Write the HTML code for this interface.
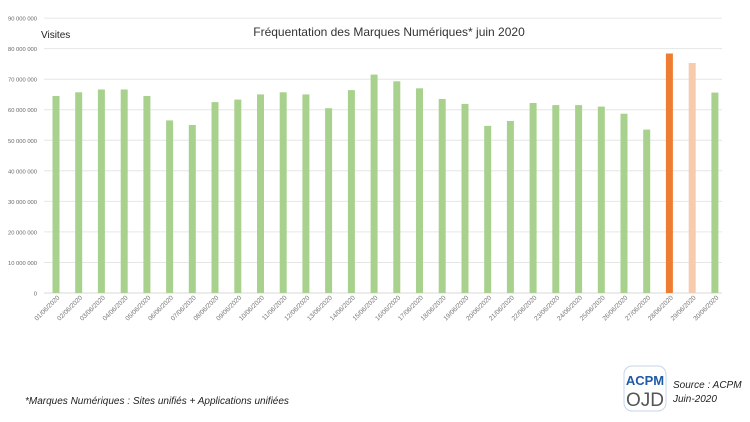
<!DOCTYPE html>
<html><head><meta charset="utf-8"><style>body{margin:0;background:#fff}</style></head><body>
<svg width="750" height="417" xmlns="http://www.w3.org/2000/svg" font-family="Liberation Sans, sans-serif">
<rect width="750" height="417" fill="#fff"/>
<g stroke="#e6e6e6" stroke-width="1">
<line x1="44" x2="722" y1="293" y2="293" stroke="#d9d9d9"/><line x1="44" x2="722" y1="262.5" y2="262.5"/><line x1="44" x2="722" y1="231.9" y2="231.9"/><line x1="44" x2="722" y1="201.4" y2="201.4"/><line x1="44" x2="722" y1="170.8" y2="170.8"/><line x1="44" x2="722" y1="140.3" y2="140.3"/><line x1="44" x2="722" y1="109.7" y2="109.7"/><line x1="44" x2="722" y1="79.2" y2="79.2"/><line x1="44" x2="722" y1="48.6" y2="48.6"/><line x1="44" x2="722" y1="18.1" y2="18.1"/>
</g>
<g font-size="5.8" text-anchor="end" fill="#666">
<text x="37" y="295.5">0</text><text x="37" y="265">10 000 000</text><text x="37" y="234.4">20 000 000</text><text x="37" y="203.9">30 000 000</text><text x="37" y="173.3">40 000 000</text><text x="37" y="142.8">50 000 000</text><text x="37" y="112.2">60 000 000</text><text x="37" y="81.7">70 000 000</text><text x="37" y="51.1">80 000 000</text><text x="37" y="20.6">90 000 000</text>
</g>
<g fill="#a9d18e">
<rect x="52.5" y="96" width="7" height="197"/>
<rect x="75.2" y="92.3" width="7" height="200.7"/>
<rect x="97.9" y="89.5" width="7" height="203.5"/>
<rect x="120.7" y="89.5" width="7" height="203.5"/>
<rect x="143.4" y="96" width="7" height="197"/>
<rect x="166.1" y="120.4" width="7" height="172.6"/>
<rect x="188.8" y="125" width="7" height="168"/>
<rect x="211.5" y="102.1" width="7" height="190.9"/>
<rect x="234.3" y="99.6" width="7" height="193.4"/>
<rect x="257" y="94.4" width="7" height="198.6"/>
<rect x="279.7" y="92.3" width="7" height="200.7"/>
<rect x="302.4" y="94.4" width="7" height="198.6"/>
<rect x="325.1" y="108.2" width="7" height="184.8"/>
<rect x="347.9" y="90.1" width="7" height="202.9"/>
<rect x="370.6" y="74.6" width="7" height="218.4"/>
<rect x="393.3" y="81.3" width="7" height="211.7"/>
<rect x="416" y="88.3" width="7" height="204.7"/>
<rect x="438.7" y="99" width="7" height="194"/>
<rect x="461.5" y="103.9" width="7" height="189.1"/>
<rect x="484.2" y="125.9" width="7" height="167.1"/>
<rect x="506.9" y="121" width="7" height="172"/>
<rect x="529.6" y="103" width="7" height="190"/>
<rect x="552.3" y="105.1" width="7" height="187.9"/>
<rect x="575.1" y="105.1" width="7" height="187.9"/>
<rect x="597.8" y="106.6" width="7" height="186.4"/>
<rect x="620.5" y="113.7" width="7" height="179.3"/>
<rect x="643.2" y="129.6" width="7" height="163.4"/>
<rect x="665.9" y="53.5" width="7" height="239.5" fill="#ee7d31"/>
<rect x="688.7" y="63" width="7" height="230" fill="#f8cbad"/>
<rect x="711.4" y="92.6" width="7" height="200.4"/>
</g>
<g font-size="6.5" text-anchor="end" fill="#777">
<text transform="translate(60,298) rotate(-45)">01/06/2020</text>
<text transform="translate(82.7,298) rotate(-45)">02/06/2020</text>
<text transform="translate(105.4,298) rotate(-45)">03/06/2020</text>
<text transform="translate(128.2,298) rotate(-45)">04/06/2020</text>
<text transform="translate(150.9,298) rotate(-45)">05/06/2020</text>
<text transform="translate(173.6,298) rotate(-45)">06/06/2020</text>
<text transform="translate(196.3,298) rotate(-45)">07/06/2020</text>
<text transform="translate(219,298) rotate(-45)">08/06/2020</text>
<text transform="translate(241.8,298) rotate(-45)">09/06/2020</text>
<text transform="translate(264.5,298) rotate(-45)">10/06/2020</text>
<text transform="translate(287.2,298) rotate(-45)">11/06/2020</text>
<text transform="translate(309.9,298) rotate(-45)">12/06/2020</text>
<text transform="translate(332.6,298) rotate(-45)">13/06/2020</text>
<text transform="translate(355.4,298) rotate(-45)">14/06/2020</text>
<text transform="translate(378.1,298) rotate(-45)">15/06/2020</text>
<text transform="translate(400.8,298) rotate(-45)">16/06/2020</text>
<text transform="translate(423.5,298) rotate(-45)">17/06/2020</text>
<text transform="translate(446.2,298) rotate(-45)">18/06/2020</text>
<text transform="translate(469,298) rotate(-45)">19/06/2020</text>
<text transform="translate(491.7,298) rotate(-45)">20/06/2020</text>
<text transform="translate(514.4,298) rotate(-45)">21/06/2020</text>
<text transform="translate(537.1,298) rotate(-45)">22/06/2020</text>
<text transform="translate(559.8,298) rotate(-45)">23/06/2020</text>
<text transform="translate(582.6,298) rotate(-45)">24/06/2020</text>
<text transform="translate(605.3,298) rotate(-45)">25/06/2020</text>
<text transform="translate(628,298) rotate(-45)">26/06/2020</text>
<text transform="translate(650.7,298) rotate(-45)">27/06/2020</text>
<text transform="translate(673.4,298) rotate(-45)">28/06/2020</text>
<text transform="translate(696.2,298) rotate(-45)">29/06/2020</text>
<text transform="translate(718.9,298) rotate(-45)">30/06/2020</text>
</g>
<text x="389" y="36" font-size="12" text-anchor="middle" fill="#333">Fréquentation des Marques Numériques* juin 2020</text>
<text x="41" y="38" font-size="10" fill="#222">Visites</text>
<text x="25" y="404" font-size="10" font-style="italic" fill="#222">*Marques Numériques : Sites unifiés + Applications unifiées</text>
<rect x="624" y="366" width="42" height="45" rx="8" fill="#fff" stroke="#c8d4e8"/>
<text x="645" y="385" font-size="13" font-weight="bold" text-anchor="middle" fill="#1f5aa6">ACPM</text>
<text x="645" y="406" font-size="19" text-anchor="middle" fill="#555">OJD</text>
<text x="673" y="388" font-size="10" font-style="italic" fill="#222">Source : ACPM</text>
<text x="673" y="402" font-size="10" font-style="italic" fill="#222">Juin-2020</text>
</svg>
</body></html>
